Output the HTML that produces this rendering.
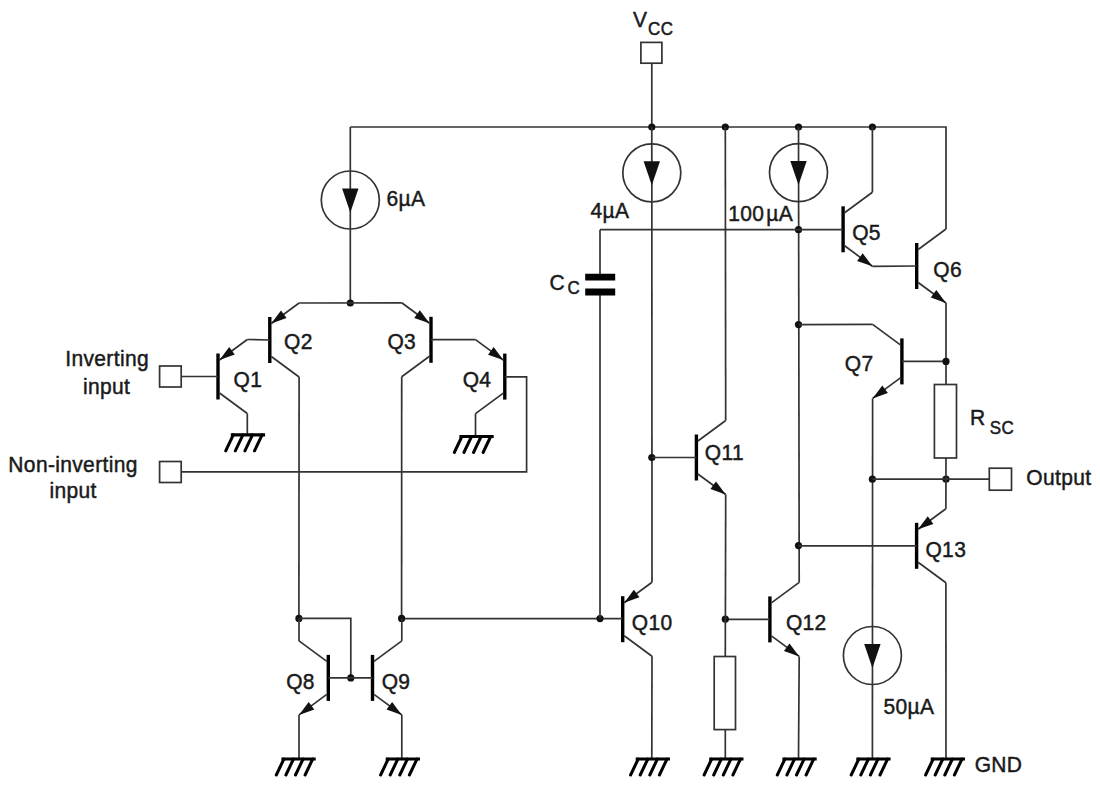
<!DOCTYPE html>
<html><head><meta charset="utf-8"><style>
html,body{margin:0;padding:0;background:#fff;width:1100px;height:789px;overflow:hidden}
svg{display:block}
text{font-family:"Liberation Sans",sans-serif;fill:#1a1a1a;stroke:#1a1a1a;stroke-width:0.45px}
</style></head><body>
<svg width="1100" height="789" viewBox="0 0 1100 789">
<g fill="none" stroke="#333" stroke-width="1.7" stroke-linecap="butt" stroke-linejoin="miter">
<path d="M218.00,353.50 L218.00,399.50" stroke="#000" stroke-width="3.4" stroke-linecap="butt"/>
<path d="M219.50,360.00 L247.30,339.50"/>
<path d="M219.50,393.00 L247.30,413.50"/>
<path d="M219.50,360.00 L229.19,347.02 L234.76,354.58 Z" fill="#111" stroke="none"/>
<path d="M269.80,317.00 L269.80,363.00" stroke="#000" stroke-width="3.4" stroke-linecap="butt"/>
<path d="M271.30,323.50 L299.10,303.00"/>
<path d="M271.30,356.50 L299.10,377.00"/>
<path d="M271.30,323.50 L280.99,310.52 L286.56,318.08 Z" fill="#111" stroke="none"/>
<path d="M431.00,316.80 L431.00,362.80" stroke="#000" stroke-width="3.4" stroke-linecap="butt"/>
<path d="M429.50,323.30 L401.70,302.80"/>
<path d="M429.50,356.30 L401.70,376.80"/>
<path d="M429.50,323.30 L414.24,317.88 L419.81,310.32 Z" fill="#111" stroke="none"/>
<path d="M504.80,353.60 L504.80,399.60" stroke="#000" stroke-width="3.4" stroke-linecap="butt"/>
<path d="M503.30,360.10 L475.50,339.60"/>
<path d="M503.30,393.10 L475.50,413.60"/>
<path d="M503.30,360.10 L488.04,354.68 L493.61,347.12 Z" fill="#111" stroke="none"/>
<path d="M843.10,206.30 L843.10,252.30" stroke="#000" stroke-width="3.4" stroke-linecap="butt"/>
<path d="M844.60,212.80 L872.40,192.30"/>
<path d="M844.60,245.80 L872.40,266.30"/>
<path d="M872.40,266.30 L857.14,260.88 L862.71,253.32 Z" fill="#111" stroke="none"/>
<path d="M916.70,243.00 L916.70,289.00" stroke="#000" stroke-width="3.4" stroke-linecap="butt"/>
<path d="M918.20,249.50 L946.00,229.00"/>
<path d="M918.20,282.50 L946.00,303.00"/>
<path d="M946.00,303.00 L930.74,297.58 L936.31,290.02 Z" fill="#111" stroke="none"/>
<path d="M901.90,338.40 L901.90,384.40" stroke="#000" stroke-width="3.4" stroke-linecap="butt"/>
<path d="M900.40,344.90 L872.60,324.40"/>
<path d="M900.40,377.90 L872.60,398.40"/>
<path d="M872.60,398.40 L882.29,385.42 L887.86,392.98 Z" fill="#111" stroke="none"/>
<path d="M328.30,654.90 L328.30,700.90" stroke="#000" stroke-width="3.4" stroke-linecap="butt"/>
<path d="M326.80,661.40 L299.00,640.90"/>
<path d="M326.80,694.40 L299.00,714.90"/>
<path d="M299.00,714.90 L308.69,701.92 L314.26,709.48 Z" fill="#111" stroke="none"/>
<path d="M372.50,654.90 L372.50,700.90" stroke="#000" stroke-width="3.4" stroke-linecap="butt"/>
<path d="M374.00,661.40 L401.80,640.90"/>
<path d="M374.00,694.40 L401.80,714.90"/>
<path d="M401.80,714.90 L386.54,709.48 L392.11,701.92 Z" fill="#111" stroke="none"/>
<path d="M622.70,596.20 L622.70,642.20" stroke="#000" stroke-width="3.4" stroke-linecap="butt"/>
<path d="M624.20,602.70 L652.00,582.20"/>
<path d="M624.20,635.70 L652.00,656.20"/>
<path d="M624.20,602.70 L633.89,589.72 L639.46,597.28 Z" fill="#111" stroke="none"/>
<path d="M696.40,434.50 L696.40,480.50" stroke="#000" stroke-width="3.4" stroke-linecap="butt"/>
<path d="M697.90,441.00 L725.70,420.50"/>
<path d="M697.90,474.00 L725.70,494.50"/>
<path d="M725.70,494.50 L710.44,489.08 L716.01,481.52 Z" fill="#111" stroke="none"/>
<path d="M769.90,596.40 L769.90,642.40" stroke="#000" stroke-width="3.4" stroke-linecap="butt"/>
<path d="M771.40,602.90 L799.20,582.40"/>
<path d="M771.40,635.90 L799.20,656.40"/>
<path d="M799.20,656.40 L783.94,650.98 L789.51,643.42 Z" fill="#111" stroke="none"/>
<path d="M916.60,522.80 L916.60,568.80" stroke="#000" stroke-width="3.4" stroke-linecap="butt"/>
<path d="M918.10,529.30 L945.90,508.80"/>
<path d="M918.10,562.30 L945.90,582.80"/>
<path d="M918.10,529.30 L927.79,516.32 L933.36,523.88 Z" fill="#111" stroke="none"/>
<rect x="640.90" y="42.40" width="21.00" height="20.80"/>
<path d="M651.80,63.20 L651.80,127.00"/>
<path d="M350.30,127.00 L946.00,127.00 L946.00,229.00"/>
<circle cx="651.80" cy="127.00" r="3.6" fill="#111" stroke="none"/>
<circle cx="725.30" cy="127.00" r="3.6" fill="#111" stroke="none"/>
<circle cx="798.50" cy="127.00" r="3.6" fill="#111" stroke="none"/>
<circle cx="872.40" cy="127.00" r="3.6" fill="#111" stroke="none"/>
<path d="M350.30,127.00 L350.30,303.00"/>
<circle cx="350.30" cy="200.00" r="29.0"/>
<path d="M342.10,188.50 L358.50,188.50 L350.30,212.50 Z" fill="#111" stroke="none"/>
<circle cx="350.30" cy="303.00" r="3.6" fill="#111" stroke="none"/>
<path d="M299.10,303.00 L401.70,302.80"/>
<path d="M651.80,127.00 L652.00,582.20"/>
<circle cx="651.80" cy="172.80" r="29.0"/>
<path d="M643.60,161.30 L660.00,161.30 L651.80,185.30 Z" fill="#111" stroke="none"/>
<circle cx="651.80" cy="457.50" r="3.6" fill="#111" stroke="none"/>
<path d="M651.80,457.50 L696.40,457.50"/>
<path d="M725.30,127.00 L725.70,420.50"/>
<path d="M798.50,127.00 L799.20,582.40"/>
<circle cx="798.50" cy="172.60" r="29.0"/>
<path d="M790.30,161.10 L806.70,161.10 L798.50,185.10 Z" fill="#111" stroke="none"/>
<circle cx="798.50" cy="229.70" r="3.6" fill="#111" stroke="none"/>
<path d="M600.00,229.70 L843.00,229.70"/>
<path d="M872.40,192.30 L872.40,127.00"/>
<path d="M872.40,266.30 L916.70,266.00"/>
<path d="M946.00,303.00 L946.00,384.50"/>
<circle cx="798.50" cy="324.60" r="3.6" fill="#111" stroke="none"/>
<path d="M798.50,324.60 L872.60,324.40"/>
<path d="M901.90,361.40 L946.00,361.40"/>
<circle cx="946.00" cy="361.40" r="3.6" fill="#111" stroke="none"/>
<rect x="934.40" y="384.50" width="22.10" height="73.50"/>
<path d="M872.60,398.40 L872.40,759.00"/>
<circle cx="872.40" cy="479.20" r="3.6" fill="#111" stroke="none"/>
<circle cx="946.00" cy="479.20" r="3.6" fill="#111" stroke="none"/>
<path d="M872.40,479.20 L989.30,479.20"/>
<rect x="989.30" y="468.20" width="22.20" height="22.00"/>
<path d="M946.00,458.00 L945.90,508.80"/>
<circle cx="798.50" cy="545.60" r="3.6" fill="#111" stroke="none"/>
<path d="M798.50,545.80 L916.60,545.80"/>
<path d="M945.90,582.80 L946.00,759.00"/>
<circle cx="872.40" cy="655.50" r="29.0"/>
<path d="M864.20,644.00 L880.60,644.00 L872.40,668.00 Z" fill="#111" stroke="none"/>
<path d="M799.20,656.40 L798.50,759.00"/>
<path d="M725.30,619.40 L769.90,619.40"/>
<circle cx="725.30" cy="619.20" r="3.6" fill="#111" stroke="none"/>
<path d="M725.70,494.50 L725.30,656.50"/>
<rect x="714.20" y="656.50" width="21.30" height="73.10"/>
<path d="M725.30,729.60 L725.30,759.00"/>
<path d="M401.60,618.60 L622.70,618.60"/>
<circle cx="600.00" cy="618.60" r="3.6" fill="#111" stroke="none"/>
<path d="M652.00,656.20 L651.80,759.00"/>
<path d="M600.00,229.70 L600.00,277.00"/>
<path d="M600.00,292.00 L600.00,618.60"/>
<path d="M585.2,277.2 H615.2 M585.2,292 H615.2" stroke="#000" stroke-width="6.8"/>
<path d="M247.30,339.50 L269.80,340.00"/>
<rect x="159.60" y="366.00" width="21.60" height="21.00"/>
<path d="M181.20,376.50 L218.00,376.50"/>
<path d="M247.30,413.50 L247.30,434.80"/>
<path d="M299.10,377.00 L298.90,618.40"/>
<path d="M431.00,339.60 L475.50,339.60"/>
<path d="M401.70,376.80 L401.60,618.40"/>
<path d="M504.80,376.80 L526.60,376.80 L526.60,471.80 L181.20,471.80"/>
<rect x="159.60" y="461.50" width="21.60" height="21.00"/>
<path d="M475.50,413.60 L475.50,436.50"/>
<circle cx="298.90" cy="618.40" r="3.6" fill="#111" stroke="none"/>
<circle cx="401.60" cy="618.40" r="3.6" fill="#111" stroke="none"/>
<path d="M298.90,618.40 L350.80,618.40 L350.80,677.90"/>
<circle cx="350.80" cy="677.90" r="3.6" fill="#111" stroke="none"/>
<path d="M328.30,677.90 L372.50,677.90"/>
<path d="M299.00,714.90 L299.00,759.00"/>
<path d="M299.00,640.90 L299.00,618.40"/>
<path d="M401.80,640.90 L401.80,618.40"/>
<path d="M401.80,714.90 L401.80,759.00"/>
<path d="M230.80,434.80 L265.10,434.80" stroke="#000" stroke-width="3.2"/>
<path d="M233.30,434.80 L225.70,450.80" stroke="#000" stroke-width="3" stroke-linecap="round"/>
<path d="M242.90,434.80 L235.30,450.80" stroke="#000" stroke-width="3" stroke-linecap="round"/>
<path d="M252.50,434.80 L244.90,450.80" stroke="#000" stroke-width="3" stroke-linecap="round"/>
<path d="M262.10,434.80 L254.50,450.80" stroke="#000" stroke-width="3" stroke-linecap="round"/>
<path d="M459.40,436.50 L493.70,436.50" stroke="#000" stroke-width="3.2"/>
<path d="M461.90,436.50 L454.30,452.50" stroke="#000" stroke-width="3" stroke-linecap="round"/>
<path d="M471.50,436.50 L463.90,452.50" stroke="#000" stroke-width="3" stroke-linecap="round"/>
<path d="M481.10,436.50 L473.50,452.50" stroke="#000" stroke-width="3" stroke-linecap="round"/>
<path d="M490.70,436.50 L483.10,452.50" stroke="#000" stroke-width="3" stroke-linecap="round"/>
<path d="M281.40,759.00 L315.70,759.00" stroke="#000" stroke-width="3.2"/>
<path d="M283.90,759.00 L276.30,775.00" stroke="#000" stroke-width="3" stroke-linecap="round"/>
<path d="M293.50,759.00 L285.90,775.00" stroke="#000" stroke-width="3" stroke-linecap="round"/>
<path d="M303.10,759.00 L295.50,775.00" stroke="#000" stroke-width="3" stroke-linecap="round"/>
<path d="M312.70,759.00 L305.10,775.00" stroke="#000" stroke-width="3" stroke-linecap="round"/>
<path d="M385.70,759.00 L420.00,759.00" stroke="#000" stroke-width="3.2"/>
<path d="M388.20,759.00 L380.60,775.00" stroke="#000" stroke-width="3" stroke-linecap="round"/>
<path d="M397.80,759.00 L390.20,775.00" stroke="#000" stroke-width="3" stroke-linecap="round"/>
<path d="M407.40,759.00 L399.80,775.00" stroke="#000" stroke-width="3" stroke-linecap="round"/>
<path d="M417.00,759.00 L409.40,775.00" stroke="#000" stroke-width="3" stroke-linecap="round"/>
<path d="M635.70,759.00 L670.00,759.00" stroke="#000" stroke-width="3.2"/>
<path d="M638.20,759.00 L630.60,775.00" stroke="#000" stroke-width="3" stroke-linecap="round"/>
<path d="M647.80,759.00 L640.20,775.00" stroke="#000" stroke-width="3" stroke-linecap="round"/>
<path d="M657.40,759.00 L649.80,775.00" stroke="#000" stroke-width="3" stroke-linecap="round"/>
<path d="M667.00,759.00 L659.40,775.00" stroke="#000" stroke-width="3" stroke-linecap="round"/>
<path d="M709.20,759.00 L743.50,759.00" stroke="#000" stroke-width="3.2"/>
<path d="M711.70,759.00 L704.10,775.00" stroke="#000" stroke-width="3" stroke-linecap="round"/>
<path d="M721.30,759.00 L713.70,775.00" stroke="#000" stroke-width="3" stroke-linecap="round"/>
<path d="M730.90,759.00 L723.30,775.00" stroke="#000" stroke-width="3" stroke-linecap="round"/>
<path d="M740.50,759.00 L732.90,775.00" stroke="#000" stroke-width="3" stroke-linecap="round"/>
<path d="M782.40,759.00 L816.70,759.00" stroke="#000" stroke-width="3.2"/>
<path d="M784.90,759.00 L777.30,775.00" stroke="#000" stroke-width="3" stroke-linecap="round"/>
<path d="M794.50,759.00 L786.90,775.00" stroke="#000" stroke-width="3" stroke-linecap="round"/>
<path d="M804.10,759.00 L796.50,775.00" stroke="#000" stroke-width="3" stroke-linecap="round"/>
<path d="M813.70,759.00 L806.10,775.00" stroke="#000" stroke-width="3" stroke-linecap="round"/>
<path d="M856.30,759.00 L890.60,759.00" stroke="#000" stroke-width="3.2"/>
<path d="M858.80,759.00 L851.20,775.00" stroke="#000" stroke-width="3" stroke-linecap="round"/>
<path d="M868.40,759.00 L860.80,775.00" stroke="#000" stroke-width="3" stroke-linecap="round"/>
<path d="M878.00,759.00 L870.40,775.00" stroke="#000" stroke-width="3" stroke-linecap="round"/>
<path d="M887.60,759.00 L880.00,775.00" stroke="#000" stroke-width="3" stroke-linecap="round"/>
<path d="M930.70,759.00 L965.00,759.00" stroke="#000" stroke-width="3.2"/>
<path d="M933.20,759.00 L925.60,775.00" stroke="#000" stroke-width="3" stroke-linecap="round"/>
<path d="M942.80,759.00 L935.20,775.00" stroke="#000" stroke-width="3" stroke-linecap="round"/>
<path d="M952.40,759.00 L944.80,775.00" stroke="#000" stroke-width="3" stroke-linecap="round"/>
<path d="M962.00,759.00 L954.40,775.00" stroke="#000" stroke-width="3" stroke-linecap="round"/>
</g>
<g>
<text transform="translate(632.95,27.20) scale(1,1.07)" font-size="21" letter-spacing="0.35">V</text>
<text transform="translate(648.10,35.40) scale(1,1.07)" font-size="17" letter-spacing="0.35">CC</text>
<text transform="translate(386.60,206.10) scale(1,1.07)" font-size="21" letter-spacing="0.35">6µA</text>
<text transform="translate(590.50,218.30) scale(1,1.07)" font-size="21" letter-spacing="0.35">4µA</text>
<text transform="translate(728.15,221.40) scale(1,1.07)" font-size="21" letter-spacing="0.35">100</text>
<text transform="translate(766.35,221.40) scale(1,1.07)" font-size="21" letter-spacing="0.35">µA</text>
<text transform="translate(549.45,290.20) scale(1,1.07)" font-size="21" letter-spacing="0.35">C</text>
<text transform="translate(567.50,294.10) scale(1,1.07)" font-size="17" letter-spacing="0.35">C</text>
<text transform="translate(233.55,387.00) scale(1,1.07)" font-size="21" letter-spacing="0.35">Q1</text>
<text transform="translate(284.10,349.30) scale(1,1.07)" font-size="21" letter-spacing="0.35">Q2</text>
<text transform="translate(387.45,349.30) scale(1,1.07)" font-size="21" letter-spacing="0.35">Q3</text>
<text transform="translate(462.70,387.20) scale(1,1.07)" font-size="21" letter-spacing="0.35">Q4</text>
<text transform="translate(852.20,240.10) scale(1,1.07)" font-size="21" letter-spacing="0.35">Q5</text>
<text transform="translate(933.35,276.50) scale(1,1.07)" font-size="21" letter-spacing="0.35">Q6</text>
<text transform="translate(844.80,371.10) scale(1,1.07)" font-size="21" letter-spacing="0.35">Q7</text>
<text transform="translate(286.20,688.70) scale(1,1.07)" font-size="21" letter-spacing="0.35">Q8</text>
<text transform="translate(381.65,688.70) scale(1,1.07)" font-size="21" letter-spacing="0.35">Q9</text>
<text transform="translate(631.80,629.50) scale(1,1.07)" font-size="21" letter-spacing="0.35">Q10</text>
<text transform="translate(704.75,460.20) scale(1,1.07)" font-size="21" letter-spacing="0.35">Q11</text>
<text transform="translate(785.90,629.50) scale(1,1.07)" font-size="21" letter-spacing="0.35">Q12</text>
<text transform="translate(925.45,556.70) scale(1,1.07)" font-size="21" letter-spacing="0.35">Q13</text>
<text transform="translate(65.30,365.80) scale(1,1.07)" font-size="21" letter-spacing="0.35">Inverting</text>
<text transform="translate(82.95,394.40) scale(1,1.07)" font-size="21" letter-spacing="0.35">input</text>
<text transform="translate(8.35,471.70) scale(1,1.07)" font-size="21" letter-spacing="0.35">Non-inverting</text>
<text transform="translate(49.50,497.90) scale(1,1.07)" font-size="21" letter-spacing="0.35">input</text>
<text transform="translate(970.00,425.00) scale(1,1.07)" font-size="21" letter-spacing="0.35">R</text>
<text transform="translate(989.70,434.10) scale(1,1.07)" font-size="17" letter-spacing="0.35">SC</text>
<text transform="translate(1026.25,485.00) scale(1,1.07)" font-size="21" letter-spacing="0.35">Output</text>
<text transform="translate(974.65,772.10) scale(1,1.07)" font-size="21" letter-spacing="0.35">GND</text>
<text transform="translate(883.40,713.50) scale(1,1.07)" font-size="21" letter-spacing="0.35">50µA</text>
</g>
</svg>
</body></html>
